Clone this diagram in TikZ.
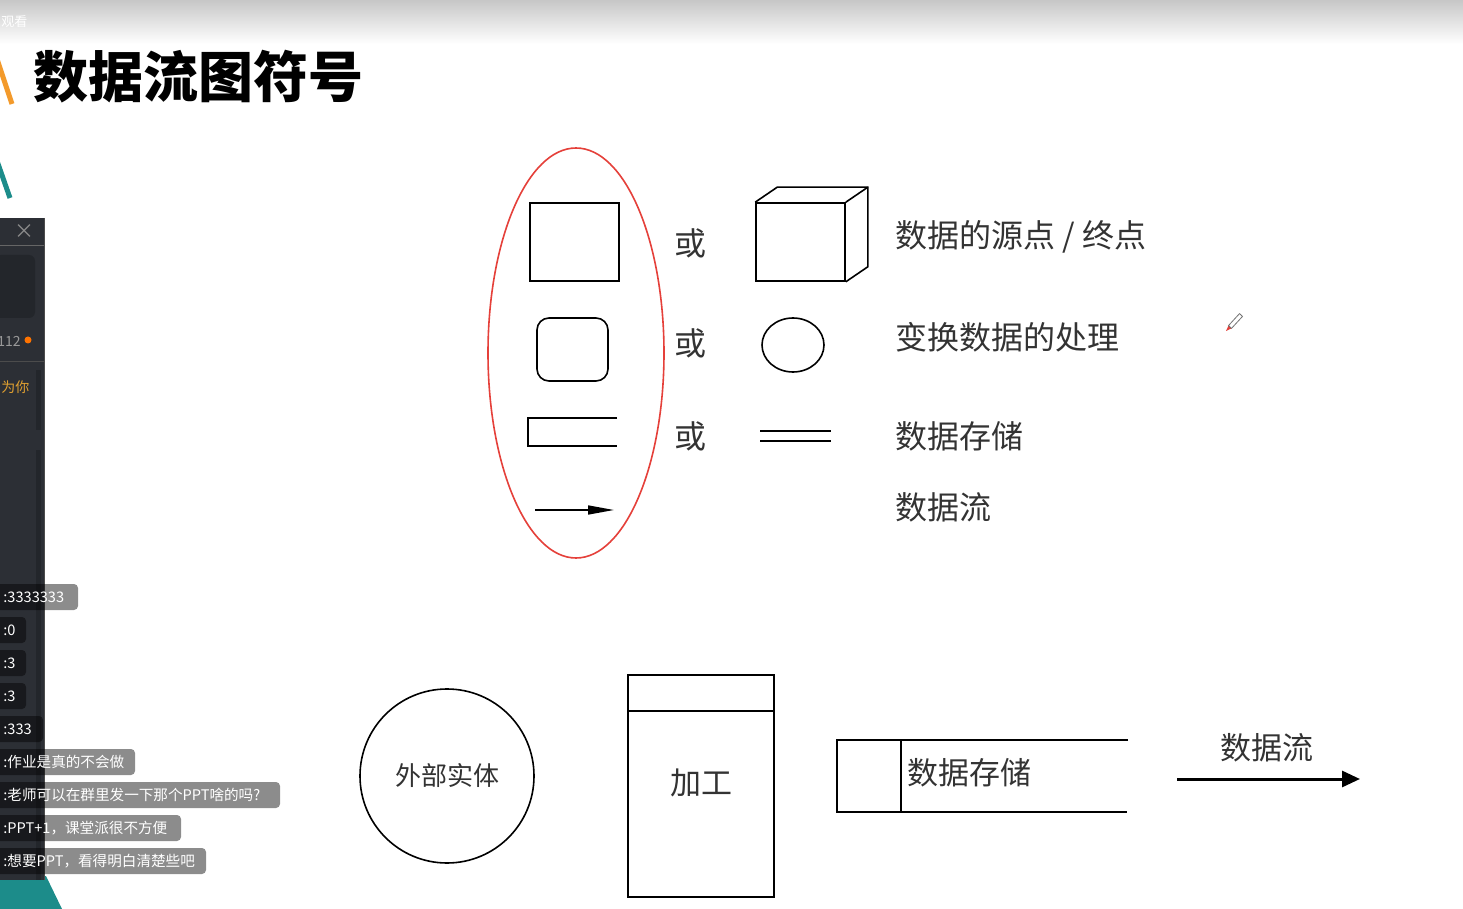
\documentclass[tikz,border=0pt]{standalone}
\usepackage{fontspec}
\setmainfont{Noto Sans CJK SC}
\usetikzlibrary{arrows.meta, positioning, calc, shapes.geometric}
\definecolor{panelbg}{HTML}{2C2F35}
\definecolor{paneldark}{HTML}{23262B}
\definecolor{ringred}{HTML}{E5403A}
\definecolor{accentorange}{HTML}{F39A2B}
\definecolor{accentteal}{HTML}{1C8C8A}
\definecolor{chatorange}{HTML}{E0A030}

\begin{document}
\begin{tikzpicture}[
        x=0.5pt, y=-0.5pt,
        sym/.style={draw, line width=0.8pt, inner sep=0pt, text=black!80},
        symline/.style={line width=0.8pt},
        lbl/.style={font=\fontsize{16}{16}\selectfont, text=black!80, anchor=west, inner sep=0pt},
        orlbl/.style={font=\fontsize{16}{16}\selectfont, text=black!80, inner sep=0pt},
        chat/.style={font=\fontsize{7.3}{7.3}\selectfont, text=white, anchor=west, inner sep=0pt}
    ]
    \useasboundingbox (0,0) rectangle (1463,909);
    \clip (0,0) rectangle (1463,909);
    \fill[white] (0,0) rectangle (1463,909);

    % Slide frame
    \shade[top color=black!22, bottom color=white] (0,0) rectangle (1463,44);
    \node[font=\fontsize{6.5}{6.5}\selectfont, text=white, anchor=west, inner sep=0pt] (watch) at (1,22) {观看};
    \draw[accentorange, line width=2.5pt] (-4,56) -- (12,104);
    \draw[accentteal, line width=2.5pt] (-4,158) -- (10,198);
    \node[font=\fontsize{27.5}{27.5}\selectfont\bfseries, anchor=west, inner sep=0pt] (title) at (33,77) {数据流图符号};

    % Chat panel
    \fill[accentteal] (0,876) -- (46,876) -- (62,909) -- (0,909) -- cycle;
    \fill[panelbg] (-5,218) rectangle (44,880);
    \draw[black!70, line width=0.5pt] (44,218) -- (44,880);
    \draw[black!60, line width=0.5pt] (0,246) -- (44,246);
    \node[text=black!45, font=\fontsize{10}{10}\selectfont, inner sep=0pt] (closex) at (25,232) {×};
    \fill[paneldark, rounded corners=3pt] (-5,255) rectangle (35,318);
    \node[text=black!40, font=\fontsize{7}{7}\selectfont, anchor=east, inner sep=0pt] (online) at (21,341) {112};
    \fill[orange!90!red] (28,340) circle (3.5);
    \draw[black!70, line width=0.5pt] (0,362) -- (44,362);
    \node[text=chatorange, font=\fontsize{7}{7}\selectfont, anchor=west, inner sep=0pt] (forYou) at (1,387) {为你};
    \fill[paneldark] (36,370) rectangle (41,430);
    \fill[paneldark] (36,450) rectangle (41,880);
    \foreach \y/\r/\t [count=\i] in {597/78/{:3333333}, 630/26/{:0}, 663/26/{:3}, 696/26/{:3},
            729/43/{:333}, 762/135/{:作业是真的不会做}, 795/280/{:老师可以在群里发一下那个PPT啥的吗?},
            828/181/{:PPT+1，课堂派很不方便}, 861/206/{:想要PPT，看得明白清楚些吧}} {
        \fill[black, fill opacity=0.45, rounded corners=2pt] (-10,\y-13) rectangle (\r,\y+13);
        \node[chat] (msg\i) at (3,\y) {\t};
    }

    % Symbols in the red ring
    \node[draw=ringred, line width=0.8pt, ellipse, minimum width=88pt, minimum height=205pt] (ring) at (576,353) {};
    \node[sym, minimum width=44.5pt, minimum height=39pt] (srcbox) at (574.5,242) {};
    \node[sym, rounded corners=6pt, minimum width=35.5pt, minimum height=31.5pt] (procbox) at (572.5,349.5) {};
    \draw[symline] (617,418) -- (528,418) -- (528,446) -- (617,446);
    \coordinate (flowA) at (535,510);
    \coordinate (flowB) at (614,510);
    \draw[symline, -{Triangle[length=13pt, width=4.5pt]}] (flowA) -- (flowB);

    % Alternatives
    \node[orlbl] (or1) at (690,243) {或};
    \node[orlbl] (or2) at (690,343) {或};
    \node[orlbl] (or3) at (690,436) {或};
    \node[sym, minimum width=44.5pt, minimum height=39pt] (srccube) at (800.5,242) {};
    \draw[symline] (srccube.north west) -- ++(22,-15) -- ($(srccube.north east)+(22,-15)$)
        -- ($(srccube.south east)+(22,-15)$) -- (srccube.south east);
    \draw[symline] (srccube.north east) -- ++(22,-15);
    \node[sym, ellipse, minimum width=31pt, minimum height=27pt] (proccirc) at (793,345) {};
    \draw[symline] (760,431) -- (831,431);
    \draw[symline] (760,441) -- (831,441);

    % Meanings
    \node[lbl] (srclbl) at (895,237) {数据的源点 / 终点};
    \node[lbl] (proclbl) at (895,337) {变换数据的处理};
    \node[lbl] (storelbl) at (895,436) {数据存储};
    \node[lbl] (flowlbl) at (895,507) {数据流};

    % Pen cursor
    \fill[ringred] (1226,331) -- (1228.5,325.6) -- (1231.5,328.4) -- cycle;
    \draw[black!55, line width=0.4pt] (1228.5,325.6) -- (1239.5,313.6) -- (1242.5,316.4) -- (1231.5,328.4) -- cycle;

    % Second notation
    \node[sym, circle, minimum size=87pt, font=\fontsize{13}{13}\selectfont] (extent) at (447,776) {外部实体};
    \node[sym, minimum width=73pt, minimum height=111pt] (jiagong) at (701,786) {};
    \draw[symline] ($(jiagong.north west)+(0,37)$) -- ($(jiagong.north east)+(0,37)$);
    \node[font=\fontsize{15.5}{15.5}\selectfont, text=black!80, inner sep=0pt] (jglbl) at (701,783) {加工};
    \draw[symline] (1128,740) -- (837,740) -- (837,812) -- (1127,812);
    \draw[symline] (901,740) -- (901,812);
    \node[font=\fontsize{15.5}{15.5}\selectfont, text=black!80, anchor=west, inner sep=0pt] (storetxt) at (907,773) {数据存储};
    \coordinate (arrowA) at (1177,779);
    \coordinate (arrowB) at (1360,779);
    \draw[line width=1.5pt, -{Triangle[length=9pt, width=8pt]}] (arrowA) -- (arrowB);
    \node[font=\fontsize{15.5}{15.5}\selectfont, text=black!80, inner sep=0pt] (flowtxt) at (1267,748) {数据流};

\end{tikzpicture}
\end{document}
